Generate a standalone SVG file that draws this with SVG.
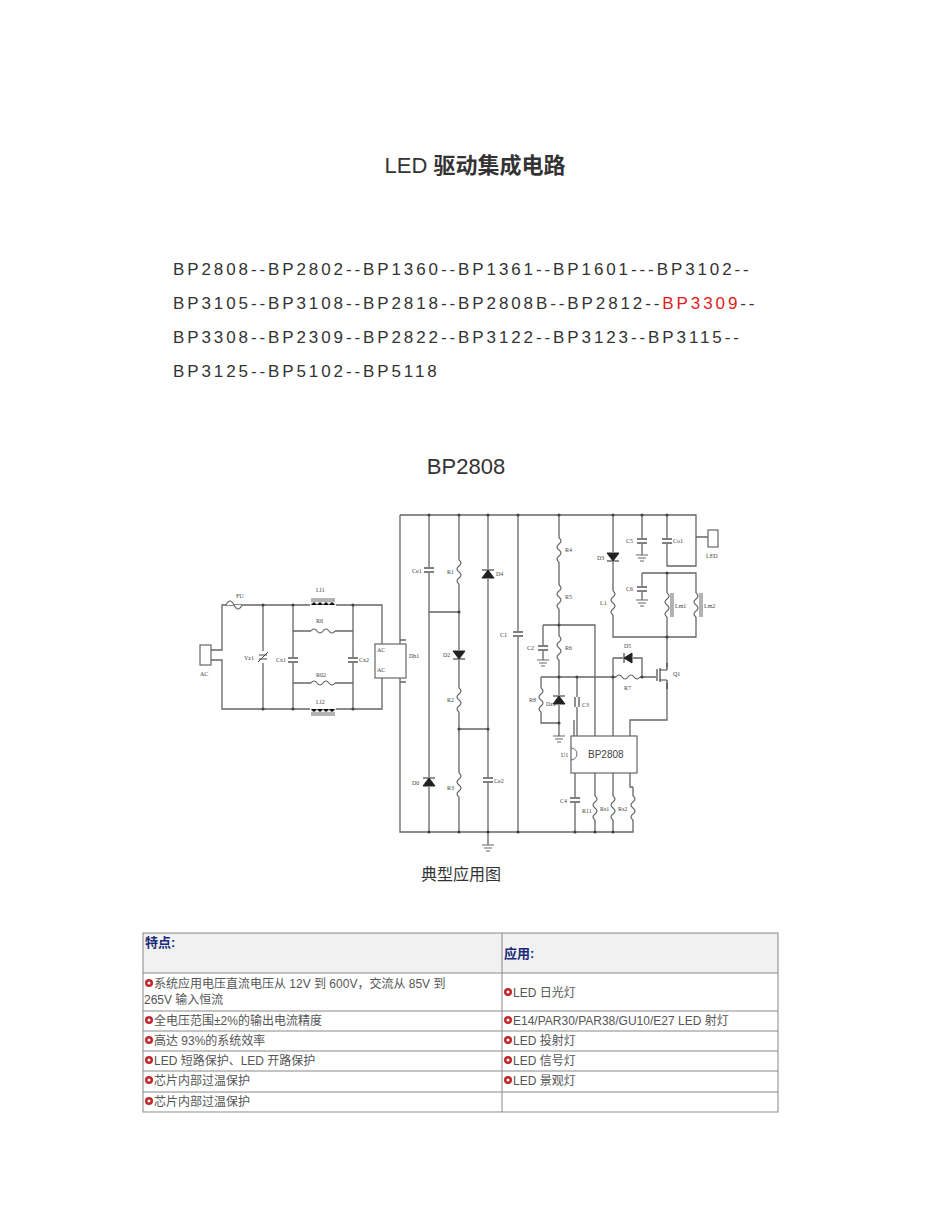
<svg xmlns="http://www.w3.org/2000/svg" width="950" height="1230" viewBox="0 0 950 1230">
<style>
.t{font-family:"Liberation Sans","Noto Sans CJK SC",sans-serif;fill:#333}
.w{stroke:#666;stroke-width:1.3;fill:none}
.lb{font-family:"Liberation Serif",serif;font-size:6px;fill:#444}
.tb{font-family:"Liberation Sans","Noto Sans CJK SC",sans-serif;font-size:12px;fill:#555}
.b{fill:#c0282d}
</style>
<defs>
<g id="rv"><rect x="-4" y="-12" width="8" height="24" fill="#fff"/><path d="M0,-12 q4,3 0,6 q-4,3 0,6 q4,3 0,6 q-4,3 0,6" stroke="#666" stroke-width="1.2" fill="none"/></g>
<g id="rh"><rect x="-12" y="-4" width="24" height="8" fill="#fff"/><path d="M-12,0 q3,-4 6,0 q3,4 6,0 q3,-4 6,0 q3,4 6,0" stroke="#666" stroke-width="1.2" fill="none"/></g>
<g id="cv"><rect x="-5" y="-3" width="10" height="6" fill="#fff"/><path d="M-5,-2H5M-5,2H5" stroke="#555" stroke-width="1.3"/></g>
<g id="ch"><rect x="-3" y="-5" width="6" height="10" fill="#fff"/><path d="M-2,-5V5M2,-5V5" stroke="#555" stroke-width="1.3"/></g>
<g id="du"><rect x="-6" y="-5" width="12" height="10" fill="#fff"/><path d="M-6,-4H6M0,-4L-6,4H6Z" fill="#222" stroke="#222"/></g>
<g id="dd"><rect x="-6" y="-5" width="12" height="10" fill="#fff"/><path d="M-6,4H6M0,4L-6,-4H6Z" fill="#222" stroke="#222"/></g>
<g id="gnd"><path d="M-6,0H6M-4,3H4M-2,6H2" stroke="#666" stroke-width="1.2"/></g>
<g id="dot"><circle r="1.6" fill="#444"/></g>
<g id="bul"><circle r="4" class="b"/><circle r="1.5" fill="#fff"/></g>
</defs>

<text class="t" x="475" y="173" font-size="22" text-anchor="middle">LED <tspan font-weight="bold">驱动集成电路</tspan></text>
<g class="t" font-size="17" letter-spacing="2.9">
<text x="173" y="275">BP2808--BP2802--BP1360--BP1361--BP1601---BP3102--</text>
<text x="173" y="309">BP3105--BP3108--BP2818--BP2808B--BP2812--<tspan fill="#e02020">BP3309</tspan>--</text>
<text x="173" y="343">BP3308--BP2309--BP2822--BP3122--BP3123--BP3115--</text>
<text x="173" y="377">BP3125--BP5102--BP5118</text>
</g>
<text class="t" x="466" y="474" font-size="22" text-anchor="middle">BP2808</text>

<g id="connectors" class="w">
<path d="M400,515H696V537H708M400,515V832H633V787M429,515V832M459,515V832M488,515V845M518,515V832M559,515V625"/>
<path d="M429,612H459M459,729H488"/>
<path d="M211,650H222V605H382V645M211,660H222V709H382V677M263,605V709M293,605V709M353,605V709M293,631H353M293,683H353M382,645H375M382,677H375M400,640H406M400,682H406"/>
<path d="M543,625H595V736M543,625V660M559,625V736M541,677H667M541,677V723H559M577,677V736M613,515V637H696V573H642M642,573V600M642,515V555M667,515V566H696V537M667,573V690M613,658V677M613,658H642V677M667,690V720H630V736M574,736V720M613,677V736"/>
<path d="M575,773V832M595,773V832M613,773V832M630,773V787H633"/>
</g>

<g id="parts">
<rect x="200" y="645" width="11" height="20" fill="#fff" stroke="#666" stroke-width="1.2"/>
<text class="lb" x="200" y="676">AC</text>
<path d="M226,605 q4,-8 8,0 q4,8 8,0" stroke="#666" stroke-width="1.2" fill="#fff"/><text class="lb" x="236" y="598">FU</text>
<g transform="translate(263,657)"><rect x="-4" y="-6" width="8" height="12" fill="#fff"/><path d="M-4,-2H4M-4,2H4M-5,5L5,-5" stroke="#444" stroke-width="1"/></g><text class="lb" x="244" y="660">Vz1</text>
<use href="#cv" x="293" y="660"/><text class="lb" x="276" y="662">Cx1</text>
<use href="#cv" x="353" y="660"/><text class="lb" x="359" y="662">Cx2</text>
<use href="#rh" x="323" y="631"/><text class="lb" x="316" y="623">R0</text>
<use href="#rh" x="323" y="683"/><text class="lb" x="316" y="677">R02</text>
<g transform="translate(323,605)"><rect x="-13" y="-4" width="26" height="6" fill="#fff"/><path d="M-12,0 q3,-5 6,0 q3,-5 6,0 q3,-5 6,0 q3,-5 6,0M-12,-4H12M-12,-6H12" stroke="#666" stroke-width="1"/></g><text class="lb" x="316" y="592">Lf1</text>
<g transform="translate(323,709)"><rect x="-13" y="-2" width="26" height="6" fill="#fff"/><path d="M-12,0 q3,5 6,0 q3,5 6,0 q3,5 6,0 q3,5 6,0M-12,4H12M-12,6H12" stroke="#666" stroke-width="1"/></g><text class="lb" x="316" y="704">Lf2</text>
<rect x="375" y="644" width="31" height="34" fill="#fff" stroke="#666" stroke-width="1.2"/><text class="lb" x="377" y="652">AC</text><text class="lb" x="377" y="672">AC</text><text class="lb" x="409" y="658">Dh1</text>

<use href="#cv" x="429" y="570"/><text class="lb" x="412" y="573">Ce1</text>
<use href="#du" x="429" y="782"/><text class="lb" x="412" y="785">D0</text>
<use href="#rv" x="459" y="572"/><text class="lb" x="447" y="574">R1</text>
<use href="#dd" x="459" y="655"/><text class="lb" x="443" y="657">D2</text>
<use href="#rv" x="459" y="700"/><text class="lb" x="447" y="702">R2</text>
<use href="#rv" x="459" y="785"/><text class="lb" x="447" y="790">R3</text>
<use href="#du" x="488" y="574"/><text class="lb" x="496" y="576">D4</text>
<use href="#cv" x="488" y="780"/><text class="lb" x="494" y="783">Ce2</text>
<use href="#gnd" x="488" y="845"/>
<use href="#cv" x="518" y="634"/><text class="lb" x="500" y="637">C1</text>
<use href="#rv" x="559" y="550"/><text class="lb" x="565" y="552">R4</text>
<use href="#rv" x="559" y="597"/><text class="lb" x="565" y="599">R5</text>
<use href="#rv" x="559" y="648"/><text class="lb" x="565" y="650">R6</text>
<use href="#cv" x="543" y="648"/><text class="lb" x="527" y="650">C2</text>
<use href="#gnd" x="543" y="660"/>
<use href="#rv" x="541" y="700"/><text class="lb" x="529" y="702">R8</text>
<use href="#du" x="559" y="700"/><text class="lb" x="546" y="706">Dz1</text>
<use href="#ch" x="577" y="702"/><text class="lb" x="582" y="707">C3</text>
<use href="#gnd" x="559" y="736"/>
<rect x="571" y="736" width="66" height="37" fill="#fff" stroke="#666" stroke-width="1.2"/>
<path d="M571,748 a6,6 0 0 1 0,12" fill="none" stroke="#666"/>
<text x="588" y="758" font-family="Liberation Sans,sans-serif" font-size="10" fill="#444">BP2808</text>
<text class="lb" x="561" y="757">U1</text>
<use href="#cv" x="575" y="800"/><text class="lb" x="560" y="803">C4</text>
<use href="#rv" x="595" y="808"/><text class="lb" x="582" y="813">R11</text>
<use href="#rv" x="613" y="808"/><text class="lb" x="600" y="811">Rs1</text>
<use href="#rv" x="633" y="808"/><text class="lb" x="618" y="811">Rs2</text>
<use href="#dd" x="613" y="557"/><text class="lb" x="597" y="560">D3</text>
<use href="#rv" x="613" y="603"/><text class="lb" x="600" y="605">L1</text>
<use href="#cv" x="642" y="541"/><text class="lb" x="626" y="543">C5</text><use href="#gnd" x="642" y="555"/>
<use href="#cv" x="667" y="541"/><text class="lb" x="673" y="543">Co1</text>
<rect x="708" y="530" width="10" height="17" fill="#fff" stroke="#666" stroke-width="1.2"/><text class="lb" x="706" y="558">LED</text>
<use href="#cv" x="642" y="589"/><text class="lb" x="626" y="591">C6</text><use href="#gnd" x="642" y="600"/>
<g transform="translate(667,605)"><use href="#rv"/><path d="M4,-12V12M6,-12V12" stroke="#666"/></g><text class="lb" x="675" y="608">Lm1</text>
<g transform="translate(696,605)"><use href="#rv"/><path d="M4,-12V12M6,-12V12" stroke="#666"/></g><text class="lb" x="704" y="608">Lm2</text>
<g transform="translate(628,658)"><rect x="-5" y="-6" width="10" height="12" fill="#fff"/><path d="M-4,-5V5M-4,0L4,-5V5Z" fill="#222" stroke="#222"/></g><text class="lb" x="624" y="648">D5</text>
<use href="#rh" x="628" y="677"/><text class="lb" x="624" y="690">R7</text>
<g transform="translate(662,675)"><rect x="-6" y="-8" width="12" height="16" fill="#fff"/><path d="M-5,-6V6M-2,-7V7M-2,-5H5M-2,5H5M5,-5V-12M5,5V14" stroke="#444" stroke-width="1.2" fill="none"/></g><text class="lb" x="673" y="676">Q1</text>
<g fill="#444"><use href="#dot" x="429" y="515"/><use href="#dot" x="459" y="515"/><use href="#dot" x="488" y="515"/><use href="#dot" x="518" y="515"/><use href="#dot" x="559" y="515"/><use href="#dot" x="613" y="515"/><use href="#dot" x="642" y="515"/><use href="#dot" x="667" y="515"/><use href="#dot" x="459" y="612"/><use href="#dot" x="459" y="729"/><use href="#dot" x="488" y="729"/><use href="#dot" x="429" y="832"/><use href="#dot" x="459" y="832"/><use href="#dot" x="488" y="832"/><use href="#dot" x="518" y="832"/><use href="#dot" x="575" y="832"/><use href="#dot" x="595" y="832"/><use href="#dot" x="613" y="832"/><use href="#dot" x="263" y="605"/><use href="#dot" x="293" y="605"/><use href="#dot" x="353" y="605"/><use href="#dot" x="263" y="709"/><use href="#dot" x="293" y="709"/><use href="#dot" x="353" y="709"/><use href="#dot" x="559" y="625"/><use href="#dot" x="559" y="677"/><use href="#dot" x="577" y="677"/><use href="#dot" x="613" y="677"/><use href="#dot" x="642" y="677"/><use href="#dot" x="559" y="723"/><use href="#dot" x="667" y="573"/><use href="#dot" x="667" y="637"/></g>
</g>
<text class="t" x="461" y="880" font-size="16" text-anchor="middle">典型应用图</text>

<g id="table">
<rect x="143" y="933" width="635" height="40" fill="#f1f1f1"/>
<rect x="143" y="933" width="635" height="179" fill="none" stroke="#888" stroke-width="1"/>
<path d="M502,933V1112M143,973H778M143,1011H778M143,1031H778M143,1051H778M143,1071H778M143,1092H778" stroke="#888" stroke-width="1"/>
<text x="145" y="947" font-family="Liberation Sans,Noto Sans CJK SC,sans-serif" font-size="13" font-weight="bold" fill="#1a2a7a">特点:</text>
<text x="504" y="958" font-family="Liberation Sans,Noto Sans CJK SC,sans-serif" font-size="13" font-weight="bold" fill="#1a2a7a">应用:</text>
<use href="#bul" x="149" y="983"/><text class="tb" x="154" y="988">系统应用电压直流电压从 12V 到 600V，交流从 85V 到</text>
<text class="tb" x="144" y="1004">265V 输入恒流</text>
<use href="#bul" x="149" y="1020"/><text class="tb" x="154" y="1025">全电压范围±2%的输出电流精度</text>
<use href="#bul" x="149" y="1040"/><text class="tb" x="154" y="1045">高达 93%的系统效率</text>
<use href="#bul" x="149" y="1060"/><text class="tb" x="154" y="1065">LED 短路保护、LED 开路保护</text>
<use href="#bul" x="149" y="1080"/><text class="tb" x="154" y="1085">芯片内部过温保护</text>
<use href="#bul" x="149" y="1101"/><text class="tb" x="154" y="1106">芯片内部过温保护</text>
<use href="#bul" x="508" y="992"/><text class="tb" x="513" y="997">LED 日光灯</text>
<use href="#bul" x="508" y="1020"/><text class="tb" x="513" y="1025">E14/PAR30/PAR38/GU10/E27 LED 射灯</text>
<use href="#bul" x="508" y="1040"/><text class="tb" x="513" y="1045">LED 投射灯</text>
<use href="#bul" x="508" y="1060"/><text class="tb" x="513" y="1065">LED 信号灯</text>
<use href="#bul" x="508" y="1080"/><text class="tb" x="513" y="1085">LED 景观灯</text>
</g>
</svg>
